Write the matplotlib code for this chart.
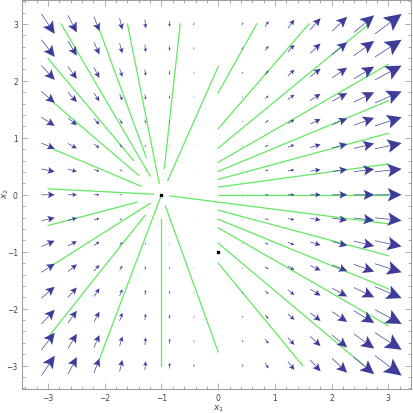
import numpy as np
import matplotlib.pyplot as plt
from matplotlib.ticker import MultipleLocator

# --- data -------------------------------------------------------------
# 15 x 15 sample grid of the vector field
grid_x = np.linspace(-3, 3, 15)
grid_y = np.linspace(-3, 3, 15)


# plotted field  (x1' , x2') = (x1 (x1 + 1), x1 x2)
def field(x1, x2):
    return x1 * (x1 + 1), x1 * x2


# green solution curves (straight segments)
line_x0 = [-3.00, -2.77, -2.11, -1.60, -2.93, -2.93, -3.00, -0.67, -0.89,
           0.00, 0.00, 0.00, 0.00, 0.00, 0.00, 0.00, 0.00, -0.85,
           0.00, 0.00, 0.00, 0.00, 0.00,
           -0.93, -1.00, -2.10, -3.00, -2.93, -3.00]
line_y0 = [2.39, 3.00, 2.94, 3.00, 1.64, 0.81, 0.105, 3.00, 0.25,
           1.79, 1.16, 0.82, 0.57, 0.41, 0.27, 0.135, 0.00, -0.02,
           -0.27, -0.43, -0.58, -0.85, -1.20,
           -0.20, -0.42, -2.90, -2.50, -1.24, -0.54]
line_x1 = [-1.49, -1.20, -1.27, -1.04, -1.40, -1.36, -1.14, -0.95, 0.00,
           0.68, 1.60, 2.66, 3.00, 3.00, 3.00, 3.00, 3.00, 3.00,
           3.00, 3.00, 3.00, 2.57, 1.49,
           0.00, -1.00, -1.02, -1.29, -1.20, -1.43]
line_y1 = [0.60, 0.33, 0.66, 0.20, 0.34, 0.15, 0.01, 0.46, 2.25,
           3.00, 3.00, 3.00, 2.29, 1.65, 1.08, 0.54, 0.00, -0.51,
           -1.07, -1.65, -2.30, -3.00, -3.00,
           -2.76, -3.00, -0.05, -0.36, -0.15, -0.13]

# marked points
pts_x = [-1, 0]
pts_y = [0, -1]

arrow_col = '#3d3d99'
line_col = '#62e862'
frame_col = '#a0a0a0'

# --- plot -------------------------------------------------------------
fig = plt.figure(figsize=(4.14, 4.14), dpi=100)
ax = fig.add_axes([22 / 414, 24 / 414, 389 / 414, 389 / 414])

for x0, y0, x1, y1 in zip(line_x0, line_y0, line_x1, line_y1):
    ax.plot([x0, x1], [y0, y1], color=line_col, lw=0.9, zorder=2)

# arrows: length proportional to magnitude, centred on grid point
scale = 0.0392
for gx in grid_x:
    for gy in grid_y:
        u, v = field(gx, gy)
        m = np.hypot(u, v)
        if m < 1e-9:
            continue
        L = scale * m
        dx, dy = u / m * L, v / m * L
        ax.arrow(gx - dx / 2, gy - dy / 2, dx, dy,
                 width=min(0.012, 0.2 * L), head_width=0.5 * L,
                 head_length=0.52 * L, length_includes_head=True,
                 overhang=0.2, fc=arrow_col, ec='none', zorder=3)

ax.plot(pts_x, pts_y, 's', color='black', ms=1.7, zorder=4)

ax.set_xlim(-3.46, 3.40)
ax.set_ylim(-3.41, 3.42)

for sp in ax.spines.values():
    sp.set_color(frame_col)
    sp.set_linewidth(0.8)

ax.xaxis.set_major_locator(MultipleLocator(1))
ax.yaxis.set_major_locator(MultipleLocator(1))
ax.xaxis.set_minor_locator(MultipleLocator(0.2))
ax.yaxis.set_minor_locator(MultipleLocator(0.2))
ax.tick_params(which='both', direction='in', top=True, right=True,
               color=frame_col, labelcolor='#444444', labelsize=5.5,
               width=0.6)
ax.tick_params(which='major', length=4, pad=3)
ax.tick_params(which='minor', length=2)

ax.set_xlabel(r'$x_1$', fontsize=6.5, color='#444444')
ax.set_ylabel(r'$x_2$', fontsize=6.5, color='#444444')
ax.xaxis.set_label_coords(0.505, -0.035)
ax.yaxis.set_label_coords(-0.028, 0.505)

fig.savefig('out.png', dpi=100)
